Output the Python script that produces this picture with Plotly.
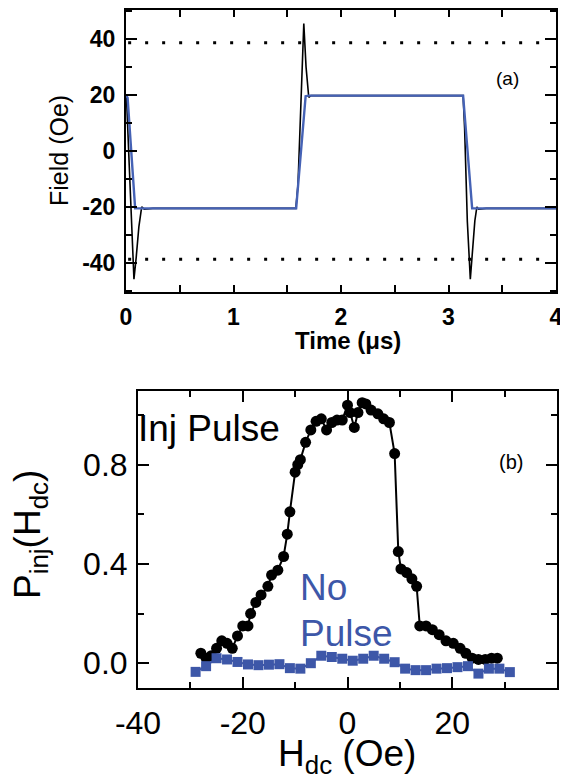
import plotly.graph_objects as go

# page body keeps an 8px margin, so the figure is drawn 8px smaller and shifted
W, H = 568, 777
OFF = 8
FW, FH = W - OFF, H - OFF

# panel (a): pulse field vs time
t_meas = [0.0, 0.006, 0.03, 0.055, 0.074, 0.095, 0.12, 0.146, 0.17, 0.25, 1.2, 1.58, 1.60, 1.625,
          1.654, 1.675, 1.69, 1.70, 1.72, 1.8, 2.5, 3.136, 3.15, 3.175, 3.203, 3.225, 3.245,
          3.264, 3.28, 3.35, 4.0]
field_meas = [20.0, 18.0, -5.0, -32.0, -45.8, -38.0, -27.0, -20.0, -20.8, -20.5, -20.5, -20.5, -12.0, 15.0,
              45.6, 30.0, 21.0, 19.2, 19.8, 19.8, 19.8, 19.8, 8.0, -25.0,
              -45.8, -36.0, -25.0, -20.0, -20.8, -20.5, -20.5]
t_fit = [0.0, 0.015, 0.085, 1.583, 1.671, 1.70, 3.136, 3.22, 4.0]
field_fit = [20.0, 19.0, -20.5, -20.5, 19.6, 19.8, 19.8, -20.5, -20.5]
t_limit = [0.02, 3.95]
field_limit = 38.7
t_ticks = [0, 1, 2, 3, 4]
field_ticks = [-40, -20, 0, 20, 40]

# panel (b): injection probability vs dc field
h_pulse = [-28, -27, -26, -25, -24, -23, -22, -21, -20, -19, -18.5, -17.5, -16.5, -15.2, -14.5, -13.3,
           -12.2, -11.5, -11.0, -10.0, -9.5, -9.0, -8.0, -7.0, -6.0, -5.0, -4.0, -3.0, -2.0, -1.0,
           0.0, 0.5, 1.3, 2.0, 2.8, 3.5, 4.5, 5.8, 6.9, 8.0, 9.0, 9.7, 10.2, 11.3, 12.3, 13.2, 13.8,
           15.0, 16.2, 17.5, 18.8, 20.2, 21.5, 22.6, 23.8, 25.0, 26.3, 27.5, 28.6]
p_pulse = [0.04, 0.02, 0.03, 0.06, 0.09, 0.08, 0.06, 0.11, 0.15, 0.15, 0.20, 0.245, 0.275, 0.31,
           0.355, 0.375, 0.43, 0.52, 0.61, 0.77, 0.80, 0.82, 0.89, 0.94, 0.975, 0.985, 0.94, 0.97,
           0.98, 0.98, 1.04, 1.01, 0.95, 1.01, 1.05, 1.045, 1.02, 1.005, 0.985, 0.97, 0.845, 0.45,
           0.38, 0.365, 0.34, 0.31, 0.15, 0.15, 0.135, 0.115, 0.09, 0.08, 0.06, 0.04, 0.02, 0.015,
           0.015, 0.02, 0.02]
h_none = [-29, -27, -25, -23, -21, -19, -17, -15, -13, -11, -9, -7, -5, -3, -1, 1, 3, 5, 7, 9,
          11, 13, 15, 17, 19, 21, 23, 25, 27, 29, 31]
p_none = [-0.035, -0.012, 0.02, 0.015, 0.005, -0.005, -0.008, -0.006, -0.004, -0.02, -0.022,
          0.0, 0.03, 0.025, 0.018, 0.01, 0.018, 0.03, 0.018, 0.004, -0.022, -0.028, -0.028,
          -0.022, -0.02, -0.016, -0.012, -0.042, -0.022, -0.022, -0.036]
h_ticks = [-40, -20, 0, 20]
p_ticks = [0.0, 0.4, 0.8]

BLUE = "#3d57a8"
FONT = "Liberation Sans, Arial, sans-serif"


def px(x, y):
    # page pixel -> paper fraction
    return (x - OFF) / FW, 1 - (y - OFF) / FH


def xdom(x0, x1):
    return [px(x0, 0)[0], px(x1, 0)[0]]


def ydom(top, bottom):
    return [px(0, bottom)[1], px(0, top)[1]]


def frame_axis(**kw):
    base = dict(
        showline=True, linecolor="black", linewidth=2, mirror="allticks", automargin=False,
        ticks="inside", tickcolor="black", tickwidth=2, showgrid=False, zeroline=False,
    )
    base.update(kw)
    return base


def minor(step, length):
    return dict(dtick=step, ticklen=length, ticks="inside", tickcolor="black", tickwidth=2)


fig = go.Figure()

for lvl in (field_limit, -field_limit):
    fig.add_trace(go.Scatter(x=t_limit, y=[lvl, lvl], mode="lines",
                             line=dict(color="black", width=3, dash="3px,14px"), xaxis="x", yaxis="y"))
fig.add_trace(go.Scatter(x=t_meas, y=field_meas, mode="lines",
                         line=dict(color="black", width=1.6), xaxis="x", yaxis="y"))
fig.add_trace(go.Scatter(x=t_fit, y=field_fit, mode="lines",
                         line=dict(color="#4562b5", width=2.4), xaxis="x", yaxis="y"))

fig.add_trace(go.Scatter(x=h_pulse, y=p_pulse, mode="lines+markers",
                         line=dict(color="black", width=2),
                         marker=dict(symbol="circle", size=11, color="black"),
                         xaxis="x2", yaxis="y2"))
fig.add_trace(go.Scatter(x=h_none, y=p_none, mode="lines+markers",
                         line=dict(color=BLUE, width=2),
                         marker=dict(symbol="square", size=10, color=BLUE),
                         xaxis="x2", yaxis="y2"))

tick_a = dict(family=FONT, size=23, color="black", weight="bold")
tick_b = dict(family=FONT, size=32, color="black")

fig.update_layout(
    width=FW, height=FH, showlegend=False,
    margin=dict(l=0, r=0, t=0, b=0),
    paper_bgcolor="white", plot_bgcolor="white",
    xaxis=frame_axis(domain=xdom(126, 556), anchor="y", range=[0, 4],
                     tickvals=t_ticks, ticktext=[str(v) for v in t_ticks], ticklen=7,
                     minor=minor(0.5, 7), tickfont=tick_a, ticklabelstandoff=3),
    yaxis=frame_axis(domain=ydom(10, 292), anchor="x", range=[-50.4, 50.4],
                     tickvals=field_ticks, ticktext=[str(v) for v in field_ticks], ticklen=11,
                     minor=minor(10, 6), tickfont=tick_a, ticklabelstandoff=4),
    xaxis2=frame_axis(domain=xdom(138, 557), anchor="y2", range=[-40, 40],
                      tickvals=h_ticks, ticktext=[str(v) for v in h_ticks], ticklen=11,
                      minor=minor(10, 6), tickfont=tick_b, ticklabelstandoff=6),
    yaxis2=frame_axis(domain=ydom(391, 688), anchor="x2", range=[-0.1, 1.097],
                      tickvals=p_ticks, ticktext=[f"{v:.1f}" for v in p_ticks], ticklen=11,
                      minor=minor(0.2, 6), tickfont=tick_b, ticklabelstandoff=2),
)

notes = [
    ("Field (Oe)", 59, 151, 25, "black", -90, "center", None),
    ("Time (μs)", 348, 340, 24, "black", 0, "center", "bold"),
    ("(a)", 507, 79, 19, "black", 0, "center", None),
    ("(b)", 511, 462, 20, "black", 0, "center", None),
    ("P<sub>inj</sub>(H<sub>dc</sub>)", 30, 535, 37, "black", -90, "center", None),
    ("H<sub>dc</sub> (Oe)", 347, 756, 37, "black", 0, "center", None),
    ("Inj Pulse", 136, 428, 37, "black", 0, "left", None),
    ("No", 298, 587, 37, BLUE, 0, "left", None),
    ("Pulse", 298, 633, 37, BLUE, 0, "left", None),
]
for text, x, y, size, color, angle, anchor, weight in notes:
    ax, ay = px(x, y)
    f = dict(family=FONT, size=size, color=color)
    if weight:
        f["weight"] = weight
    fig.add_annotation(text=text, x=ax, y=ay, xref="paper", yref="paper", showarrow=False,
                       xanchor=anchor, yanchor="middle", textangle=angle, font=f)

fig.write_html("out.html")
